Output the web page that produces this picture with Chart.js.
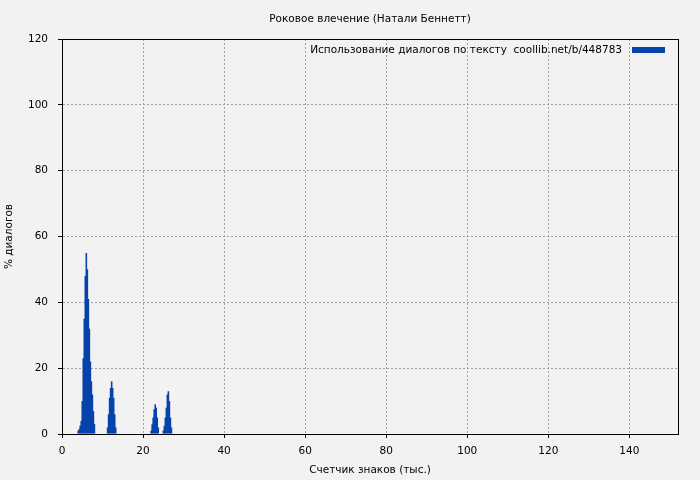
<!DOCTYPE html>
<html>
<head>
<meta charset="utf-8">
<script src="https://cdn.jsdelivr.net/npm/chart.js@4/dist/chart.umd.min.js"></script>
<style>
  html, body { margin: 0; padding: 0; background: #f2f2f2; }
  #wrap { width: 700px; height: 480px; }
</style>
</head>
<body>
<div id="wrap"><canvas id="myChart" width="700" height="480"></canvas></div>
<script>
// данные (тыс. знаков / % диалогов)
var chartTitle = 'Роковое влечение (Натали Беннетт)';
var legendLabel = 'Использование диалогов по тексту  coollib.net/b/448783';
var xTitle = 'Счетчик знаков (тыс.)';
var yTitle = '% диалогов';

var charCount = [
    4.0, 4.25, 4.5, 4.75, 5.0, 5.25, 5.5, 5.75, 6.0, 6.25, 6.5, 6.75, 7.0, 7.25, 7.5, 7.75, 8.0,
    11.25, 11.5, 11.75, 12.0, 12.25, 12.5, 12.75, 13.0, 13.25,
    22.0, 22.25, 22.5, 22.75, 23.0, 23.25, 23.5, 23.75,
    25.0, 25.25, 25.5, 25.75, 26.0, 26.25, 26.5, 26.75, 27.0
];
var dialogPct = [
    1, 1.5, 2.5, 4, 10, 23, 35, 48, 55, 50, 41, 32, 22, 16, 12, 7, 3,
    2, 6, 11, 14, 16, 14, 11, 6, 2,
    1, 3, 5, 7.5, 9, 8, 5, 2,
    1, 2.5, 5, 8, 12, 13, 10, 5, 2
];
var xTicks = [0, 20, 40, 60, 80, 100, 120, 140];
var yTicks = [0, 20, 40, 60, 80, 100, 120];

var barColor = '#0643ab';
var fontFamily = '"DejaVu Sans", Verdana, sans-serif';

Chart.defaults.font.family = fontFamily;
Chart.defaults.font.size = 10.5;
Chart.defaults.color = '#000';

var points = charCount.map(function (x, i) {
    return { x: x, y: dialogPct[i] };
});

// фон, рамка, заголовок и легенда
var decorPlugin = {
    id: 'decor',
    beforeDraw: function (chart) {
        var ctx = chart.ctx;
        ctx.save();
        ctx.fillStyle = '#f2f2f2';
        ctx.fillRect(0, 0, chart.width, chart.height);
        ctx.restore();
    },
    afterDraw: function (chart) {
        var ctx = chart.ctx;
        var a = chart.chartArea;
        ctx.save();
        ctx.setLineDash([]);
        ctx.strokeStyle = '#000';
        ctx.lineWidth = 1;
        ctx.strokeRect(Math.round(a.left) + 0.5, Math.round(a.top) + 0.5,
            Math.round(a.right - a.left), Math.round(a.bottom - a.top));

        ctx.font = '10.5px ' + fontFamily;
        ctx.fillStyle = '#000';
        ctx.textBaseline = 'middle';
        ctx.textAlign = 'center';
        ctx.fillText(chartTitle, (a.left + a.right) / 2, 19);

        ctx.textAlign = 'right';
        ctx.fillText(legendLabel, a.right - 56, 50);
        ctx.fillStyle = barColor;
        ctx.fillRect(a.right - 46, 47, 33, 6);
        ctx.restore();
    }
};

var gridOpts = {
    color: '#a0a0a0',
    offset: false,
    tickLength: 4,
    tickColor: '#000',
    tickBorderDash: [6, 0]
};

var ctx = document.getElementById('myChart').getContext('2d');
var myChart = new Chart(ctx, {
    type: 'bar',
    data: {
        datasets: [{
            label: legendLabel,
            data: points,
            backgroundColor: barColor,
            borderWidth: 0,
            barPercentage: 1.6,
            categoryPercentage: 1
        }]
    },
    options: {
        responsive: false,
        animation: false,
        layout: { padding: { top: 39, right: 22, left: 0, bottom: 0 } },
        plugins: {
            legend: { display: false },
            title: { display: false },
            tooltip: { enabled: false }
        },
        scales: {
            x: {
                type: 'linear',
                offset: false,
                min: 0,
                max: 152,
                afterFit: function (scale) { scale.height = 46; },
                afterBuildTicks: function (scale) {
                    scale.ticks = xTicks.map(function (v) { return { value: v }; });
                },
                ticks: { padding: 7, maxRotation: 0 },
                grid: gridOpts,
                border: { color: '#000', dash: [2, 2] },
                title: { display: true, text: xTitle, padding: { top: 0, bottom: 3 } }
            },
            y: {
                min: 0,
                max: 120,
                afterFit: function (scale) { scale.width = 62; },
                afterBuildTicks: function (scale) {
                    scale.ticks = yTicks.map(function (v) { return { value: v }; });
                },
                ticks: { padding: 10 },
                grid: gridOpts,
                border: { color: '#000', dash: [2, 2] },
                title: { display: true, text: yTitle, padding: { top: 3, bottom: 0 } }
            }
        }
    },
    plugins: [decorPlugin]
});
</script>
</body>
</html>
